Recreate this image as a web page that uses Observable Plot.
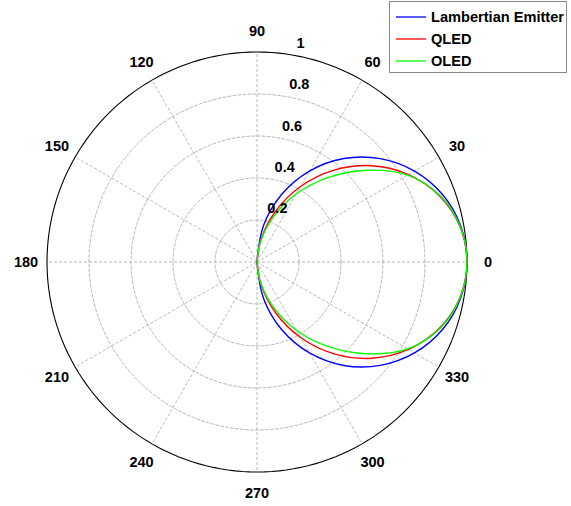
<!DOCTYPE html>
<html>
<head>
<meta charset="utf-8">
<script src="https://cdn.jsdelivr.net/npm/d3@7"></script>
<script src="https://cdn.jsdelivr.net/npm/@observablehq/plot@0.6"></script>
<style>
  html, body { margin: 0; padding: 0; background: #fff; }
  #wrap { position: relative; width: 571px; height: 506px; font-family: "Liberation Sans", Arial, sans-serif; }
  #legend { position: absolute; left: 389px; top: 1px; }
</style>
</head>
<body>
<div id="wrap"></div>
<script>
// ---- data ----
const angles = [-90,-80,-70,-60,-50,-40,-30,-20,-10,0,10,20,30,40,50,60,70,80,90];
const lambertian = [0,0.174,0.342,0.5,0.643,0.766,0.866,0.94,0.985,1,0.985,0.94,0.866,0.766,0.643,0.5,0.342,0.174,0];
const qled = [0,0.108,0.256,0.415,0.571,0.713,0.833,0.924,0.981,1,0.981,0.924,0.833,0.713,0.571,0.415,0.256,0.108,0];
const oled = [0,0.1,0.23,0.375,0.525,0.68,0.828,0.927,0.982,1,0.982,0.927,0.828,0.68,0.525,0.375,0.23,0.1,0];
const seriesNames = ["Lambertian Emitter", "QLED", "OLED"];
const seriesColors = ["#0000ff", "#ff0000", "#00ff00"];
const radialTicks = [0.2, 0.4, 0.6, 0.8, 1];
const radialTickLabels = ["0.2", "0.4", "0.6", "0.8", "1"];
const angleTicks = [0,30,60,90,120,150,180,210,240,270,300,330];
const angleTickLabels = ["0","30","60","90","120","150","180","210","240","270","300","330"];

const rad = d => d * Math.PI / 180;

const seriesValues = [lambertian, qled, oled];
const curves = seriesNames.map((name, i) => angles.map((a, j) => ({
  name, x: seriesValues[i][j] * Math.cos(rad(a)), y: seriesValues[i][j] * Math.sin(rad(a))
})));

function ring(r) {
  return d3.range(0, 361, 2).map(t => ({x: r * Math.cos(rad(t)), y: r * Math.sin(rad(t)), r}));
}
const gridRings = radialTicks.filter(r => r < 1).flatMap(r => ring(r));
const outer = ring(1);
const spokes = angleTicks.map(a => ({x2: Math.cos(rad(a)), y2: Math.sin(rad(a))}));
const angleLabelData = angleTicks.map((a, i) => ({x: 1.1 * Math.cos(rad(a)), y: 1.1 * Math.sin(rad(a)), t: angleTickLabels[i]}));
const radialLabelData = radialTicks.map((r, i) => ({x: r * Math.cos(rad(80)), y: r * Math.sin(rad(80)), t: radialTickLabels[i]}));

const fontFamily = "Liberation Sans, Arial, sans-serif";

const chart = Plot.plot({
  width: 571,
  height: 506,
  style: {fontFamily, background: "#fff", overflow: "visible"},
  x: {domain: [-1, 1], range: [46.5, 466.5], axis: null},
  y: {domain: [-1, 1], range: [471.5, 51.5], axis: null},
  marks: [
    Plot.line(gridRings, {x: "x", y: "y", z: "r", stroke: "#b0b0b0", strokeWidth: 0.9, strokeDasharray: "3,2"}),
    Plot.link(spokes, {x1: 0, y1: 0, x2: "x2", y2: "y2", stroke: "#b0b0b0", strokeWidth: 0.9, strokeDasharray: "3,2"}),
    Plot.line(outer, {x: "x", y: "y", stroke: "#000", strokeWidth: 1.1}),
    ...curves.map((c, i) => Plot.line(c, {x: "x", y: "y", stroke: seriesColors[i], strokeWidth: 1.4, curve: "catmull-rom"})),
    Plot.text(angleLabelData, {x: "x", y: "y", text: "t", fontSize: 14.5, fontWeight: "bold", fill: "#000"}),
    Plot.text(radialLabelData, {x: "x", y: "y", text: "t", fontSize: 14.5, fontWeight: "bold", fill: "#000", textAnchor: "start", dx: 3, dy: -12})
  ]
});

const wrap = document.getElementById("wrap");
wrap.appendChild(chart);
chart.style.position = "absolute";
chart.style.left = "0";
chart.style.top = "0";

// legend (overlaid, top right)
const legendDiv = document.createElement("div");
legendDiv.id = "legend";
wrap.appendChild(legendDiv);
const lsvg = d3.select(legendDiv).append("svg").attr("width", 179).attr("height", 73);
lsvg.append("rect").attr("x", 0.5).attr("y", 0.5).attr("width", 177).attr("height", 71)
  .attr("fill", "#fff").attr("stroke", "#888").attr("stroke-width", 1);
const rowCenters = [16, 38, 60];
seriesNames.forEach((n, i) => {
  lsvg.append("line").attr("x1", 7).attr("x2", 37).attr("y1", rowCenters[i]).attr("y2", rowCenters[i])
    .attr("stroke", seriesColors[i]).attr("stroke-width", 1.3);
  lsvg.append("text").attr("x", 42).attr("y", rowCenters[i]).attr("dy", "0.35em")
    .attr("font-family", fontFamily).attr("font-weight", "bold").attr("font-size", 14.6)
    .attr("fill", "#000").text(n);
});
</script>
</body>
</html>
